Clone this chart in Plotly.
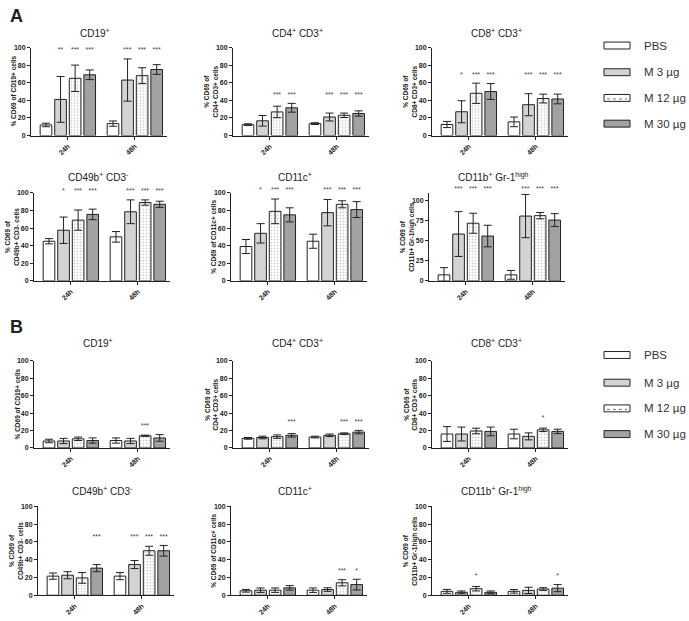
import plotly.graph_objects as go

W, H = 689, 621

times = ["24h", "48h"]
groups = ["PBS", "M 3 µg", "M 12 µg", "M 30 µg"]

# rows = groups (PBS, M3, M12, M30), columns = times (24h, 48h)
# ---------------- Panel A ----------------
a_cd19_mean = [[12, 13.5], [41, 63], [65, 68], [69, 75]]
a_cd19_sd = [[2, 3], [26, 24], [15, 9], [5.5, 5.5]]
a_cd19_sig = [["", ""], ["**", "***"], ["***", "***"], ["***", "***"]]

a_cd4_mean = [[12.3, 13.5], [16.7, 21], [26.8, 23], [31.5, 25]]
a_cd4_sd = [[1, 1], [6, 4.5], [6.5, 2.5], [5, 3]]
a_cd4_sig = [["", ""], ["", "***"], ["***", "***"], ["***", "***"]]

a_cd8_mean = [[12.5, 15.5], [27, 35], [48, 42], [50, 41.5]]
a_cd8_sd = [[3.5, 5.5], [12.5, 12.5], [11.5, 5], [9, 5.5]]
a_cd8_sig = [["", ""], ["*", "***"], ["***", "***"], ["***", "***"]]

a_cd49b_mean = [[45, 50], [57.5, 78.5], [69, 89], [75.5, 87]]
a_cd49b_sd = [[3, 6], [15, 13.5], [11.5, 3], [6, 3.5]]
a_cd49b_sig = [["", ""], ["*", "***"], ["***", "***"], ["***", "***"]]

a_cd11c_mean = [[39, 45], [54, 77.5], [79, 87], [75, 81]]
a_cd11c_sd = [[8, 8], [11, 15], [14, 4], [8, 9]]
a_cd11c_sig = [["", ""], ["*", "***"], ["***", "***"], ["***", "***"]]

a_cd11b_mean = [[7.5, 7.5], [58.5, 81], [72, 81.5], [56, 76]]
a_cd11b_sd = [[9, 5.5], [28, 27], [12.5, 4], [13.5, 8]]
a_cd11b_sig = [["", ""], ["***", "***"], ["***", "***"], ["***", "***"]]

# ---------------- Panel B ----------------
b_cd19_mean = [[8, 8.5], [8, 8], [10.5, 14], [8.5, 11.5]]
b_cd19_sd = [[2, 3], [3, 3], [2, 0.7], [3, 3.8]]
b_cd19_sig = [["", ""], ["", ""], ["", "***"], ["", ""]]

b_cd4_mean = [[11, 12.5], [12, 14.5], [13, 16.3], [14.5, 18.2]]
b_cd4_sd = [[1, 1], [1.5, 1.5], [2, 1], [2, 2]]
b_cd4_sig = [["", ""], ["", ""], ["", "***"], ["***", "***"]]

b_cd8_mean = [[16, 16], [16, 13.3], [19.5, 20.8], [19, 19]]
b_cd8_sd = [[8.5, 5.5], [8, 4], [3.2, 2], [5, 2.5]]
b_cd8_sig = [["", ""], ["", ""], ["", "*"], ["", ""]]

b_cd49b_mean = [[21.5, 21.5], [22.5, 34.5], [19.5, 50], [30.5, 50]]
b_cd49b_sd = [[3.5, 4], [4, 4.5], [6, 5], [4, 6]]
b_cd49b_sig = [["", ""], ["", "***"], ["", "***"], ["***", "***"]]

b_cd11c_mean = [[5, 5.7], [5.7, 6.4], [5.7, 14], [8.3, 12]]
b_cd11c_sd = [[1.5, 2.5], [2.5, 2], [2.5, 3.5], [2.5, 6]]
b_cd11c_sig = [["", ""], ["", ""], ["", "***"], ["", "*"]]

b_cd11b_mean = [[4.4, 4.4], [3.3, 5.5], [7.4, 7], [3.3, 8]]
b_cd11b_sd = [[2.2, 2], [1.5, 3.5], [2.5, 1.5], [1.5, 4]]
b_cd11b_sig = [["", ""], ["", ""], ["*", ""], ["", "*"]]

titles = ["CD19<sup>+</sup>", "CD4<sup>+</sup> CD3<sup>+</sup>", "CD8<sup>+</sup> CD3<sup>+</sup>",
          "CD49b<sup>+</sup> CD3<sup>-</sup>", "CD11c<sup>+</sup>", "CD11b<sup>+</sup> Gr-1<sup>high</sup>"]
ytitles = ["% CD69 of CD19+ cells", "% CD69 of<br>CD4+ CD3+ cells", "% CD69 of<br>CD8+ CD3+ cells",
           "% CD69 of<br>CD49b+ CD3- cells", "% CD69 of CD11c+ cells", "% CD69 of<br>CD11b+ Gr-1high cells"]

data = [
    (a_cd19_mean, a_cd19_sd, a_cd19_sig), (a_cd4_mean, a_cd4_sd, a_cd4_sig), (a_cd8_mean, a_cd8_sd, a_cd8_sig),
    (a_cd49b_mean, a_cd49b_sd, a_cd49b_sig), (a_cd11c_mean, a_cd11c_sd, a_cd11c_sig), (a_cd11b_mean, a_cd11b_sd, a_cd11b_sig),
    (b_cd19_mean, b_cd19_sd, b_cd19_sig), (b_cd4_mean, b_cd4_sd, b_cd4_sig), (b_cd8_mean, b_cd8_sd, b_cd8_sig),
    (b_cd49b_mean, b_cd49b_sd, b_cd49b_sig), (b_cd11c_mean, b_cd11c_sd, b_cd11c_sig), (b_cd11b_mean, b_cd11b_sd, b_cd11b_sig),
]

# ---------------- layout geometry (pixels) ----------------
col_x0 = [[31, 233, 432], [34, 231, 429], [34, 233, 432], [38, 231, 432]]
row_y = [(44, 133, 29), (191, 280, 175), (361, 449, 343), (508, 598, 493)]
PLOT_W = 136

styles = [
    dict(color="white"),
    dict(color="#d3d3d3"),
    dict(color="white", pattern=dict(shape=".", size=3, solidity=0.25, fgcolor="#8a8a8a", bgcolor="white")),
    dict(color="#a2a2a2"),
]

FONT = "Liberation Sans, Arial, sans-serif"
INK = "#222222"

def px(x):
    return x / W

def py(y):
    return 1 - y / H

fig = go.Figure()
layout = {}
annotations = []
shapes = []

for i, (mean, sd, sig) in enumerate(data):
    n = i + 1
    row, col = i // 3, i % 3
    kind = i % 6
    x0 = col_x0[row][col]
    top, bot, ty = row_y[row]
    xa = "x" if n == 1 else f"x{n}"
    ya = "y" if n == 1 else f"y{n}"
    ymax = 110 if i == 5 else 100
    dtick = 25 if i == 5 else 20

    # bars
    for g in range(4):
        fig.add_trace(go.Bar(
            x=times, y=mean[g], xaxis=xa, yaxis=ya, offsetgroup=str(g),
            marker=dict(line=dict(color=INK, width=1), **styles[g]),
            error_y=dict(type="data", array=sd[g], color=INK, thickness=1, width=4),
            showlegend=False, hoverinfo="skip",
        ))
    # significance stars, placed above the highest error bar of the panel
    tops = [mean[g][t] + sd[g][t] for g in range(4) for t in range(2)]
    level = min(max(tops) + 0.03 * ymax, ymax - 3)
    for g in range(4):
        if not any(sig[g]):
            continue
        fig.add_trace(go.Bar(
            x=times, y=[level if s else None for s in sig[g]], xaxis=xa, yaxis=ya, offsetgroup=str(g),
            marker=dict(color="rgba(0,0,0,0)", line=dict(width=0)),
            text=[s if s else None for s in sig[g]], textposition="outside", textangle=0,
            constraintext="none", cliponaxis=False,
            textfont=dict(size=7, color="#444", family=FONT),
            showlegend=False, hoverinfo="skip",
        ))

    layout["xaxis" if n == 1 else f"xaxis{n}"] = dict(
        domain=[px(x0), px(x0 + PLOT_W)], anchor=ya, type="category",
        range=[-0.55, 1.48], showline=True, linecolor=INK, linewidth=1,
        ticks="outside", ticklen=3, tickcolor=INK, tickangle=-45,
        tickfont=dict(size=7, color=INK, family=FONT, weight="bold"),
        showgrid=False, zeroline=False, fixedrange=True,
    )
    layout["yaxis" if n == 1 else f"yaxis{n}"] = dict(
        domain=[py(bot), py(top)], anchor=xa, range=[0, ymax], dtick=dtick,
        showline=True, linecolor=INK, linewidth=1, ticks="outside", ticklen=3,
        tickcolor=INK, tickfont=dict(size=7, color=INK, family=FONT, weight="bold"),
        showgrid=False, zeroline=False, fixedrange=True,
    )
    # panel title
    annotations.append(dict(
        text=titles[kind], x=px(x0 + PLOT_W / 2 - 4), y=py(ty), xref="paper", yref="paper",
        xanchor="center", yanchor="middle", showarrow=False,
        font=dict(size=10, color=INK, family=FONT),
    ))
    # y axis title
    two = "<br>" in ytitles[kind]
    annotations.append(dict(
        text=ytitles[kind], x=px(x0 - (22 if two else 17)), y=py((top + bot) / 2),
        xref="paper", yref="paper", xanchor="center", yanchor="middle", textangle=-90,
        showarrow=False, font=dict(size=6.5, color=INK, family=FONT, weight="bold"),
    ))

# panel letters
for letter, ly in (("A", 12), ("B", 327)):
    annotations.append(dict(text=f"<b>{letter}</b>", x=px(8), y=py(ly), xref="paper", yref="paper",
                            xanchor="left", yanchor="middle", showarrow=False,
                            font=dict(size=18, color=INK, family=FONT)))

# legends (one for each panel block)
legend_fill = ["white", "#d3d3d3", "white", "#a2a2a2"]
for rows in ((42, 69, 95, 121), (355, 383, 409, 435)):
    for g, cy in enumerate(rows):
        shapes.append(dict(type="rect", xref="paper", yref="paper",
                           x0=px(604), x1=px(630), y0=py(cy + 3.5), y1=py(cy - 3.5),
                           fillcolor=legend_fill[g], line=dict(color=INK, width=1)))
        if g == 2:
            shapes.append(dict(type="line", xref="paper", yref="paper",
                               x0=px(607), x1=px(627), y0=py(cy + 1), y1=py(cy + 1),
                               line=dict(color="#777", width=1, dash="dot")))
        annotations.append(dict(text=groups[g], x=px(642), y=py(cy), xref="paper", yref="paper",
                                xanchor="left", yanchor="middle", showarrow=False,
                                font=dict(size=11.5, color="#333", family=FONT)))

fig.update_layout(
    width=W, height=H, margin=dict(l=0, r=0, t=0, b=0),
    paper_bgcolor="white", plot_bgcolor="white",
    barmode="group", bargap=0.13, bargroupgap=0.2,
    showlegend=False, annotations=annotations, shapes=shapes,
    font=dict(family=FONT, color=INK),
    **layout,
)

fig.write_html("out.html", config={"displayModeBar": False},
               post_script="document.body.style.margin='0px';")
